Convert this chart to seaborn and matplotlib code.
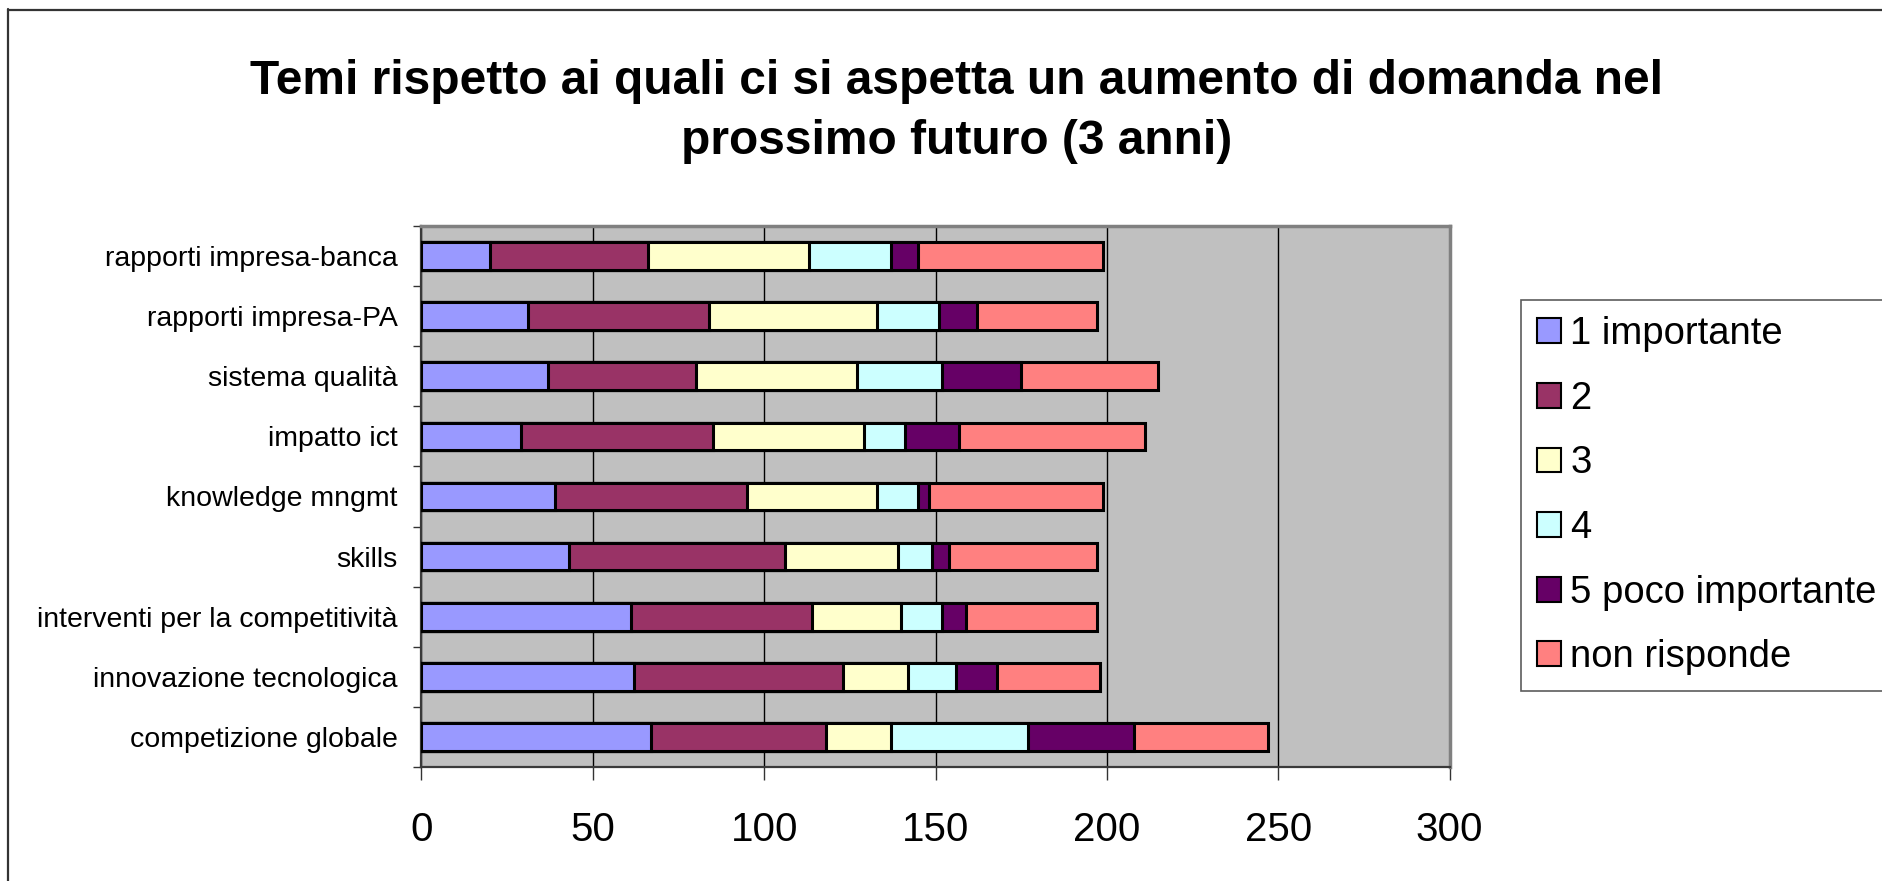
import matplotlib
matplotlib.use("Agg")
import matplotlib.pyplot as plt
import matplotlib.patches as mpatches
from matplotlib.lines import Line2D
import numpy as np
import seaborn as sns

categories = ["rapporti impresa-banca", "rapporti impresa-PA", "sistema qualità",
              "impatto ict", "knowledge mngmt", "skills",
              "interventi per la competitività", "innovazione tecnologica",
              "competizione globale"]
series_names = ["1 importante", "2", "3", "4", "5 poco importante", "non risponde"]
s1 = [20, 31, 37, 29, 39, 43, 61, 62, 67]
s2 = [46, 53, 43, 56, 56, 63, 53, 61, 51]
s3 = [47, 49, 47, 44, 38, 33, 26, 19, 19]
s4 = [24, 18, 25, 12, 12, 10, 12, 14, 40]
s5 = [8, 11, 23, 16, 3, 5, 7, 12, 31]
s6 = [54, 35, 40, 54, 51, 43, 38, 30, 39]
colors = ["#9999FF", "#993366", "#FFFFCC", "#CCFFFF", "#660066", "#FF8080"]
xticks = [0, 50, 100, 150, 200, 250, 300]

sns.set_style("white")
plt.rcParams["font.family"] = ["Liberation Sans", "DejaVu Sans"]
plt.rcParams["text.color"] = "black"
plt.rcParams["xtick.color"] = "black"
plt.rcParams["ytick.color"] = "black"
plt.rcParams["axes.labelcolor"] = "black"

W, H = 1883, 881
fig = plt.figure(figsize=(W / 100, H / 100), dpi=100)
ax = fig.add_axes([421.5 / W, 1 - 767 / H, (1449.5 - 421.5) / W, (767 - 226) / H])
ax.set_facecolor("#C0C0C0")

series = [s1, s2, s3, s4, s5, s6]
cum = np.cumsum(np.array(series), axis=0)
for i in range(len(series) - 1, -1, -1):
    sns.barplot(x=cum[i], y=categories, color=colors[i], saturation=1,
                orient="h", width=0.46, edgecolor="black", linewidth=2.2,
                ax=ax, zorder=3)

ax.set_xlim(0, 300)
ax.set_ylim(8.5, -0.5)
ax.set_xticks(xticks)
ax.set_xticklabels([str(t) for t in xticks], fontsize=29)
ax.set_xlabel("")
ax.set_ylabel("")
ax.grid(axis="x", color="black", linewidth=1.0, zorder=0)
ax.grid(axis="y", visible=False)
ax.set_axisbelow(True)

ax.tick_params(axis="y", which="major", length=0, pad=17, labelsize=20.5, labelcolor="black")
ax.set_yticks(np.arange(-0.5, 9.0, 1.0), minor=True)
ax.tick_params(axis="y", which="minor", length=6, width=1.0, color="#333333", direction="out", left=True)
ax.tick_params(axis="x", which="major", length=9.5, width=1.0, color="#333333", direction="out",
               pad=22, bottom=True, labelcolor="black")

for side in ["top", "right"]:
    ax.spines[side].set_color("#808080")
    ax.spines[side].set_linewidth(2.5)
for side in ["left", "bottom"]:
    ax.spines[side].set_color("#3a3a3a")
    ax.spines[side].set_linewidth(1.6)

fig.text(957 / W, 1 - 94 / H, "Temi rispetto ai quali ci si aspetta un aumento di domanda nel",
         ha="center", va="baseline", fontsize=34.5, fontweight="bold", color="black")
fig.text(957 / W, 1 - 154 / H, "prossimo futuro (3 anni)",
         ha="center", va="baseline", fontsize=34.5, fontweight="bold", color="black")

handles = [mpatches.Patch(facecolor=c, edgecolor="black", linewidth=1.5) for c in colors]
leg = fig.legend(handles, series_names, loc="upper left",
                 bbox_to_anchor=(1521 / W, 1 - 300 / H), bbox_transform=fig.transFigure,
                 fontsize=27.5, frameon=True, fancybox=False, borderaxespad=0,
                 borderpad=0.42, handlelength=0.62, handleheight=0.62,
                 handletextpad=0.25, labelspacing=0.75)
leg.get_frame().set_edgecolor("#333333")
leg.get_frame().set_linewidth(1.2)
for t in leg.get_texts():
    t.set_color("black")

fig.add_artist(Line2D([8.5 / W, 8.5 / W], [0, 1 - 9 / H], transform=fig.transFigure,
                      color="#333333", linewidth=1.6))
fig.add_artist(Line2D([8 / W, 1], [1 - 9.5 / H, 1 - 9.5 / H], transform=fig.transFigure,
                      color="#333333", linewidth=1.6))

fig.savefig("out.png", dpi=100)
